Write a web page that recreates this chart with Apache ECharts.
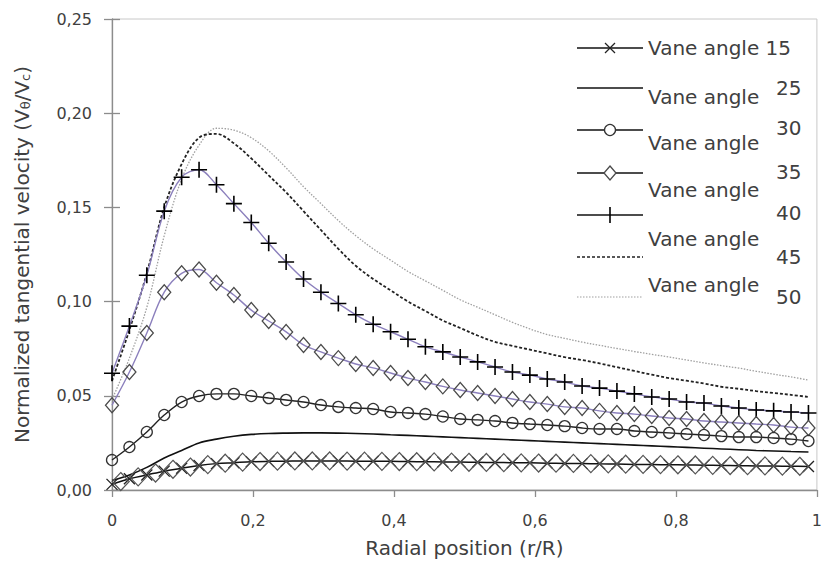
<!DOCTYPE html>
<html>
<head>
<meta charset="utf-8">
<script src="https://cdn.jsdelivr.net/npm/echarts/dist/echarts.min.js"></script>
<style>
  html, body { margin: 0; padding: 0; background: #fff; }
  #chart { width: 825px; height: 566px; }
</style>
</head>
<body>
<div id="chart"></div>
<script>
// ---------- data ----------
const radialPos = [0, 0.0247, 0.0494, 0.0741, 0.0988, 0.1235, 0.1482, 0.1729, 0.1976, 0.2223,
  0.247, 0.2717, 0.2964, 0.3211, 0.3458, 0.3705, 0.3952, 0.4199, 0.4446, 0.4693,
  0.494, 0.5187, 0.5434, 0.5681, 0.5928, 0.6175, 0.6422, 0.6669, 0.6916, 0.7163,
  0.741, 0.7657, 0.7904, 0.8151, 0.8398, 0.8645, 0.8892, 0.9139, 0.9386, 0.9633, 0.988];

const vane15 = [0.003, 0.006, 0.008, 0.010, 0.0115, 0.013, 0.014, 0.0145, 0.015, 0.0152,
  0.0153, 0.0154, 0.0154, 0.0154, 0.0153, 0.0153, 0.0152, 0.0151, 0.015, 0.0149,
  0.0148, 0.0147, 0.0146, 0.0145, 0.0144, 0.0142, 0.0141, 0.014, 0.0139, 0.0138,
  0.0136, 0.0135, 0.0134, 0.0133, 0.0132, 0.013, 0.0129, 0.0128, 0.0127, 0.0126, 0.0125];

// second marker set lying on the 15° curve (diamonds, between the crosses)
const vane15MidPos = [0.0124, 0.0371, 0.0618, 0.0865, 0.1112, 0.1359, 0.1606, 0.1853, 0.21, 0.2347,
  0.2594, 0.2841, 0.3088, 0.3335, 0.3582, 0.3829, 0.4076, 0.4323, 0.457, 0.4817,
  0.5064, 0.5311, 0.5558, 0.5805, 0.6052, 0.6299, 0.6546, 0.6793, 0.704, 0.7287,
  0.7534, 0.7781, 0.8028, 0.8275, 0.8522, 0.8769, 0.9016, 0.9263, 0.951, 0.9757];
const vane15Mid = [0.0045, 0.007, 0.009, 0.011, 0.0122, 0.0135, 0.0142, 0.0148, 0.0151, 0.0153,
  0.0154, 0.0154, 0.0154, 0.0153, 0.0153, 0.0152, 0.0151, 0.015, 0.0149, 0.0148,
  0.0147, 0.0146, 0.0145, 0.0144, 0.0143, 0.0142, 0.0141, 0.014, 0.0139, 0.0137,
  0.0136, 0.0135, 0.0134, 0.0133, 0.0131, 0.013, 0.0129, 0.0128, 0.0127, 0.0126];

const vane25 = [0.005, 0.008, 0.012, 0.017, 0.021, 0.025, 0.027, 0.0285, 0.0295, 0.030,
  0.0302, 0.0303, 0.0303, 0.0302, 0.030, 0.0297, 0.0293, 0.029, 0.0286, 0.0282,
  0.0278, 0.0274, 0.027, 0.0266, 0.0262, 0.0258, 0.0254, 0.025, 0.0246, 0.0242,
  0.0238, 0.0234, 0.023, 0.0226, 0.0222, 0.0218, 0.0214, 0.021, 0.0207, 0.0204, 0.0202];

const vane30 = [0.0159, 0.0228, 0.0308, 0.0398, 0.0467, 0.0499, 0.051, 0.051, 0.0499, 0.0488,
  0.0478, 0.0467, 0.0451, 0.0441, 0.0435, 0.043, 0.0414, 0.0409, 0.0403, 0.039,
  0.0377, 0.0372, 0.0366, 0.0356, 0.035, 0.0345, 0.0339, 0.0329, 0.0324, 0.0324,
  0.0313, 0.0308, 0.0303, 0.0297, 0.0292, 0.0286, 0.0281, 0.0281, 0.0276, 0.027, 0.026];

const vane35 = [0.045, 0.0626, 0.0833, 0.105, 0.115, 0.117, 0.110, 0.1035, 0.0955, 0.0897,
  0.0839, 0.077, 0.0733, 0.070, 0.0669, 0.0648, 0.0621, 0.0594, 0.0573, 0.055,
  0.0531, 0.0515, 0.0499, 0.0483, 0.0467, 0.0456, 0.0441, 0.0435, 0.042, 0.0409,
  0.0403, 0.0393, 0.0382, 0.0377, 0.0366, 0.0361, 0.0356, 0.035, 0.0345, 0.0334, 0.0329];

const vane40 = [0.062, 0.087, 0.114, 0.148, 0.166, 0.170, 0.162, 0.152, 0.142, 0.131,
  0.121, 0.112, 0.105, 0.099, 0.093, 0.088, 0.084, 0.080, 0.076, 0.0733,
  0.0706, 0.068, 0.0653, 0.0626, 0.061, 0.0589, 0.0573, 0.0552, 0.0541, 0.0525,
  0.051, 0.0494, 0.0483, 0.0467, 0.0462, 0.0446, 0.0435, 0.0425, 0.042, 0.0414, 0.0409];

const vane45 = [0.058, 0.085, 0.115, 0.150, 0.173, 0.187, 0.189, 0.184, 0.176, 0.167,
  0.158, 0.148, 0.138, 0.128, 0.119, 0.112, 0.106, 0.100, 0.095, 0.090,
  0.086, 0.082, 0.0786, 0.0765, 0.0745, 0.0725, 0.0705, 0.069, 0.0672, 0.0652,
  0.0632, 0.0612, 0.0594, 0.058, 0.0565, 0.0548, 0.0537, 0.0525, 0.0515, 0.0505, 0.0494];

const vane50 = [0.048, 0.070, 0.097, 0.135, 0.165, 0.183, 0.192, 0.191, 0.187, 0.180,
  0.171, 0.161, 0.152, 0.143, 0.135, 0.128, 0.122, 0.116, 0.111, 0.106,
  0.101, 0.097, 0.093, 0.089, 0.0855, 0.0825, 0.0805, 0.0785, 0.0768, 0.0751,
  0.0735, 0.072, 0.0706, 0.069, 0.0675, 0.066, 0.0647, 0.063, 0.0615, 0.06, 0.0584];

const legendNames = ['Vane angle 15', 'Vane angle', 'Vane angle', 'Vane angle', 'Vane angle', 'Vane angle'];
const legendNumbers = ['25', '30', '35', '40', '45', '50'];
const xTickLabels = ['0', '0,2', '0,4', '0,6', '0,8', '1'];
const yTickLabels = ['0,00', '0,05', '0,10', '0,15', '0,20', '0,25'];

// ---------- chart ----------
const chart = echarts.init(document.getElementById('chart'), null, { renderer: 'svg' });
const zip = (xs, ys) => xs.map((x, i) => [x, ys[i]]);

const FONT = '"DejaVu Sans", sans-serif';
const TXT = '#404040';
const plusPath = 'path://M0,-10L0,10M-10,0L10,0';
const crossPath = 'path://M-10,-10L10,10M-10,10L10,-10';

function lineSeries(name, data, line, extra) {
  return Object.assign({
    name: name, type: 'line', data: data, smooth: 0.35, showSymbol: false,
    lineStyle: line, z: 2, animation: false
  }, extra || {});
}

const series = [
  lineSeries('Vane angle 50', zip(radialPos, vane50), { color: '#a0a0a0', width: 1.3, type: [1.5, 1.5] }),
  lineSeries('Vane angle 45', zip(radialPos, vane45), { color: '#222', width: 1.8, type: [3, 2] }),
  lineSeries('Vane angle 40', zip(radialPos, vane40), { color: '#8c80bd', width: 1.4 }, {
    showSymbol: true, symbol: plusPath, symbolSize: 16,
    itemStyle: { color: 'rgba(0,0,0,0)', borderColor: '#000', borderWidth: 1.6 }
  }),
  lineSeries('Vane angle 35', zip(radialPos, vane35), { color: '#8c80bd', width: 1.4 }, {
    showSymbol: true, symbol: 'diamond', symbolSize: [13, 15],
    itemStyle: { color: 'rgba(255,255,255,0)', borderColor: '#4a4a4a', borderWidth: 1.3 }
  }),
  lineSeries('Vane angle 30', zip(radialPos, vane30), { color: '#222', width: 1.4 }, {
    showSymbol: true, symbol: 'circle', symbolSize: 11,
    itemStyle: { color: 'rgba(255,255,255,0)', borderColor: '#333', borderWidth: 1.3 }
  }),
  lineSeries('Vane angle 25', zip(radialPos, vane25), { color: '#111', width: 1.6 }),
  lineSeries('Vane angle 15', zip(radialPos, vane15), { color: '#111', width: 1.5 }, {
    showSymbol: true, symbol: crossPath, symbolSize: 11,
    itemStyle: { color: 'rgba(0,0,0,0)', borderColor: '#222', borderWidth: 1.3 }
  }),
  lineSeries('Vane angle 15 markers', zip(vane15MidPos, vane15Mid), { width: 0, opacity: 0 }, {
    showSymbol: true, symbol: 'diamond', symbolSize: [17, 18],
    itemStyle: { color: 'rgba(0,0,0,0)', borderColor: '#555', borderWidth: 1.2 }
  })
];

// legend drawn as graphic elements to match the wrapped layout of the original
const lx0 = 577, lx1 = 643, lcx = 610;
const rowY = [48, 88, 130, 173, 215, 257, 297];
const g = [];
const ln = (x1, y1, x2, y2, style) => ({ type: 'line', shape: { x1: x1, y1: y1, x2: x2, y2: y2 }, style: style, z: 10 });
const solid = { stroke: '#111', lineWidth: 1.5 };
g.push(ln(lx0, rowY[0], lx1, rowY[0], solid));
g.push(ln(lcx - 5, rowY[0] - 5, lcx + 5, rowY[0] + 5, { stroke: '#222', lineWidth: 1.3 }));
g.push(ln(lcx - 5, rowY[0] + 5, lcx + 5, rowY[0] - 5, { stroke: '#222', lineWidth: 1.3 }));
g.push(ln(lx0, rowY[1], lx1, rowY[1], solid));
g.push(ln(lx0, rowY[2], lx1, rowY[2], solid));
g.push({ type: 'circle', shape: { cx: lcx, cy: rowY[2], r: 5.5 }, style: { stroke: '#333', lineWidth: 1.3, fill: '#fff' }, z: 11 });
g.push(ln(lx0, rowY[3], lx1, rowY[3], solid));
g.push({ type: 'polygon', shape: { points: [[lcx, rowY[3] - 7], [lcx + 6, rowY[3]], [lcx, rowY[3] + 7], [lcx - 6, rowY[3]]] }, style: { stroke: '#4a4a4a', lineWidth: 1.3, fill: '#fff' }, z: 11 });
g.push(ln(lx0, rowY[4], lx1, rowY[4], solid));
g.push(ln(lcx, rowY[4] - 8, lcx, rowY[4] + 8, { stroke: '#000', lineWidth: 1.6 }));
g.push(ln(lx0, rowY[5], lx1, rowY[5], { stroke: '#222', lineWidth: 1.6, lineDash: [3, 2] }));
g.push(ln(lx0, rowY[6], lx1, rowY[6], { stroke: '#a0a0a0', lineWidth: 1.2, lineDash: [1.5, 1.5] }));

const LFONT = '20px "DejaVu Sans", sans-serif';
const legendTextY = [48, 97, 143, 190, 239, 285];
legendNames.forEach((t, i) => {
  g.push({ type: 'text', x: 648, y: legendTextY[i], style: { text: t, font: LFONT, fill: TXT, textVerticalAlign: 'middle' }, z: 12 });
});
const numY = [88, 128, 172, 213, 257, 297];
legendNumbers.forEach((t, i) => {
  g.push({ type: 'text', x: 776, y: numY[i], style: { text: t, font: LFONT, fill: TXT, textVerticalAlign: 'middle' }, z: 12 });
});

const option = {
  animation: false,
  backgroundColor: '#fff',
  grid: { left: 112, right: 3, top: 19, bottom: 76, show: true, borderColor: '#c8c8c8', borderWidth: 1 },
  xAxis: [{
    type: 'value', min: 0, max: 1, interval: 0.2,
    name: 'Radial position (r/R)', nameLocation: 'middle', nameGap: 48,
    nameTextStyle: { fontFamily: FONT, fontSize: 20, color: TXT },
    axisLine: { lineStyle: { color: '#8c8c8c', width: 1.3 } },
    axisTick: { length: 7, lineStyle: { color: '#8c8c8c', width: 1.3 } },
    axisLabel: { fontFamily: FONT, fontSize: 16, color: TXT, margin: 22,
      formatter: v => xTickLabels[Math.round(v / 0.2)] },
    splitLine: { show: false }
  }],
  yAxis: [{
    type: 'value', min: 0, max: 0.25, interval: 0.05,
    name: '{a|Normalized tangential velocity (V}{s|θ}{a|/V}{s|c}{a|)}',
    nameLocation: 'middle', nameGap: 80, nameRotate: 90,
    nameTextStyle: { rich: {
      a: { fontFamily: FONT, fontSize: 20, color: TXT },
      s: { fontFamily: FONT, fontSize: 13, color: TXT, padding: [8, 0, 0, 0] }
    } },
    axisLine: { show: true, lineStyle: { color: '#8c8c8c', width: 1.3 } },
    axisTick: { show: true, length: 8, lineStyle: { color: '#8c8c8c', width: 1.3 } },
    axisLabel: { fontFamily: FONT, fontSize: 16, color: TXT, margin: 20,
      formatter: v => yTickLabels[Math.round(v / 0.05)] },
    splitLine: { show: false }
  }, {
    type: 'value', min: 0, max: 0.25, interval: 0.05, position: 'left', offset: 0,
    axisLine: { show: false },
    axisTick: { show: true, inside: true, length: 8, lineStyle: { color: '#8c8c8c', width: 1.3 } },
    axisLabel: { show: false },
    splitLine: { show: false }
  }],
  series: series,
  graphic: g
};
chart.setOption(option);
</script>
</body>
</html>
